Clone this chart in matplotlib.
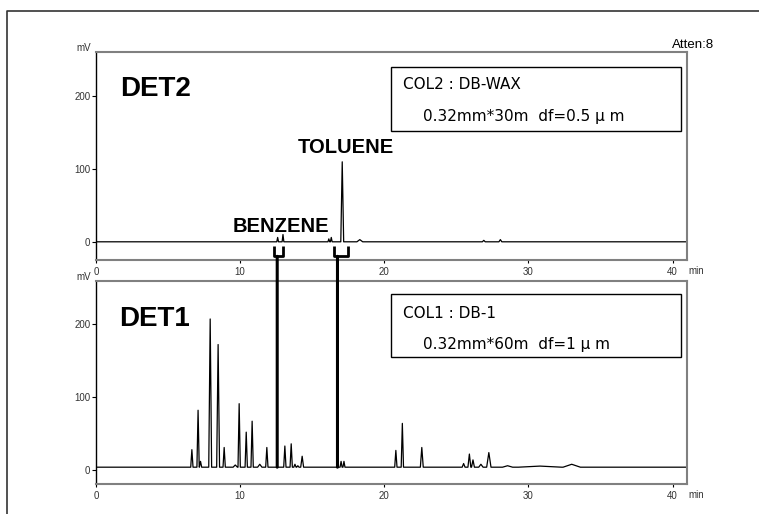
import numpy as np
import matplotlib
matplotlib.use('Agg')
import matplotlib.pyplot as plt
from matplotlib.patches import Rectangle, ConnectionPatch
from matplotlib.lines import Line2D

plt.rcParams['font.family'] = ['Liberation Sans', 'DejaVu Sans']

# DET2 (DB-WAX) peaks: retention time (min), height (mV), half base width (min)
det2_rt = [12.6, 12.97, 16.15, 16.32, 17.08, 18.3, 26.9, 28.05]
det2_h = [6, 10, 4, 6, 110, 3, 2, 3]
det2_w = [0.06, 0.06, 0.06, 0.06, 0.1, 0.2, 0.1, 0.1]
det2_base = 0

# DET1 (DB-1) peaks
det1_rt = [6.65, 7.08, 7.25, 7.92, 8.47, 8.89, 9.66, 9.93, 10.42, 10.83,
           11.36, 11.85, 13.1, 13.54, 13.8, 14.0, 14.3, 17.0, 17.2, 20.8,
           21.25, 22.6, 25.5, 25.9, 26.15, 26.7, 27.25, 28.55, 30.8, 33.0]
det1_h = [24, 78, 8, 203, 168, 27, 3, 87, 48, 63,
          4, 27, 29, 32, 4, 2, 15, 8, 8, 23,
          60, 27, 5, 18, 10, 4, 20, 2, 1.5, 4]
det1_w = [0.08, 0.08, 0.08, 0.1, 0.1, 0.08, 0.15, 0.08, 0.08, 0.08,
          0.15, 0.08, 0.08, 0.08, 0.08, 0.08, 0.1, 0.07, 0.07, 0.08,
          0.08, 0.1, 0.1, 0.1, 0.1, 0.15, 0.15, 0.35, 1.5, 0.6]
det1_base = 4

# benzene / toluene brackets: left, stem, right (min)
brk_names = ['BENZENE', 'TOLUENE']
brk_left = [12.35, 16.48]
brk_stem = [12.57, 16.75]
brk_right = [12.95, 17.45]
brk_label_x = [12.8, 17.32]
brk_label_y = [14, 122]

yticks = [0, 100, 200]
xticks = [0, 10, 20, 30, 40]


def trace(rt, h, w, base, tmax=41):
    xs, ys = [0], [base]
    for t, hh, ww in zip(rt, h, w):
        xs += [t - ww, t, t + ww]
        ys += [base, base + hh, base]
    xs.append(tmax)
    ys.append(base)
    return xs, ys


fig = plt.figure(figsize=(7.59, 5.14), dpi=100)

# outer frame
fig.add_artist(Line2D([7 / 759, 7 / 759, 1], [0, 1 - 11 / 514, 1 - 11 / 514],
                      transform=fig.transFigure, color='#333333', lw=1.2))

ax2 = fig.add_axes([0.1265, 0.4942, 0.7787, 0.4046])
ax1 = fig.add_axes([0.1265, 0.0584, 0.7787, 0.3949])

for ax, ylim in ((ax2, (-25, 261)), (ax1, (-19, 259))):
    ax.set_xlim(0, 41)
    ax.set_ylim(*ylim)
    ax.set_xticks(xticks)
    ax.set_yticks(yticks)
    for s in ['top', 'right', 'bottom']:
        ax.spines[s].set_color('#808080')
        ax.spines[s].set_linewidth(1.5)
    ax.spines['left'].set_color('black')
    ax.spines['left'].set_linewidth(1.0)
    ax.tick_params(axis='y', length=3, width=0.8, pad=1, labelsize=7,
                   labelcolor='#333333')
    ax.tick_params(axis='x', length=2, width=0.8, pad=3, labelsize=7,
                   labelcolor='#333333')
    ax.text(-0.008, 1.006, 'mV', transform=ax.transAxes, ha='right',
            va='baseline', fontsize=7, color='#333333')
    ax.text(1.003, -0.03, 'min', transform=ax.transAxes, ha='left',
            va='top', fontsize=7, color='#333333')

x, y = trace(det2_rt, det2_h, det2_w, det2_base)
ax2.plot(x, y, color='black', lw=0.9)
x, y = trace(det1_rt, det1_h, det1_w, det1_base)
ax1.plot(x, y, color='black', lw=0.9)

ax2.text(1.66, 200, 'DET2', fontsize=20, fontweight='bold', va='baseline')
ax1.text(1.6, 197, 'DET1', fontsize=20, fontweight='bold', va='baseline')

for name, l, s, r, lx, ly in zip(brk_names, brk_left, brk_stem, brk_right,
                                  brk_label_x, brk_label_y):
    ax2.plot([l, l, r, r], [-6, -20, -20, -6], color='black', lw=2,
             clip_on=False, solid_capstyle='butt')
    con = ConnectionPatch(xyA=(s, -20), coordsA=ax2.transData,
                          xyB=(s, det1_base), coordsB=ax1.transData,
                          color='black', lw=2.2)
    fig.add_artist(con)
    ax2.text(lx, ly, name, fontsize=14.5, fontweight='bold', ha='center',
             va='baseline')

# column info boxes
ax2.add_patch(Rectangle((20.45, 151.7), 20.15, 88.3, fill=False,
                        edgecolor='black', lw=1))
ax1.add_patch(Rectangle((20.45, 155), 20.15, 86, fill=False,
                        edgecolor='black', lw=1))
ax2.text(21.3, 209.7, 'COL2 : DB-WAX', fontsize=11, family='DejaVu Sans',
         va='baseline')
ax2.text(22.65, 166, '0.32mm*30m  df=0.5 μ m', fontsize=11,
         family='DejaVu Sans', va='baseline')
ax1.text(21.3, 209, 'COL1 : DB-1', fontsize=11, family='DejaVu Sans',
         va='baseline')
ax1.text(22.65, 165.3, '0.32mm*60m  df=1 μ m', fontsize=11,
         family='DejaVu Sans', va='baseline')

fig.text(714 / 759, 1 - 48.3 / 514, 'Atten:8', ha='right', va='baseline',
         fontsize=9.5)

fig.savefig('out.png', dpi=100)
